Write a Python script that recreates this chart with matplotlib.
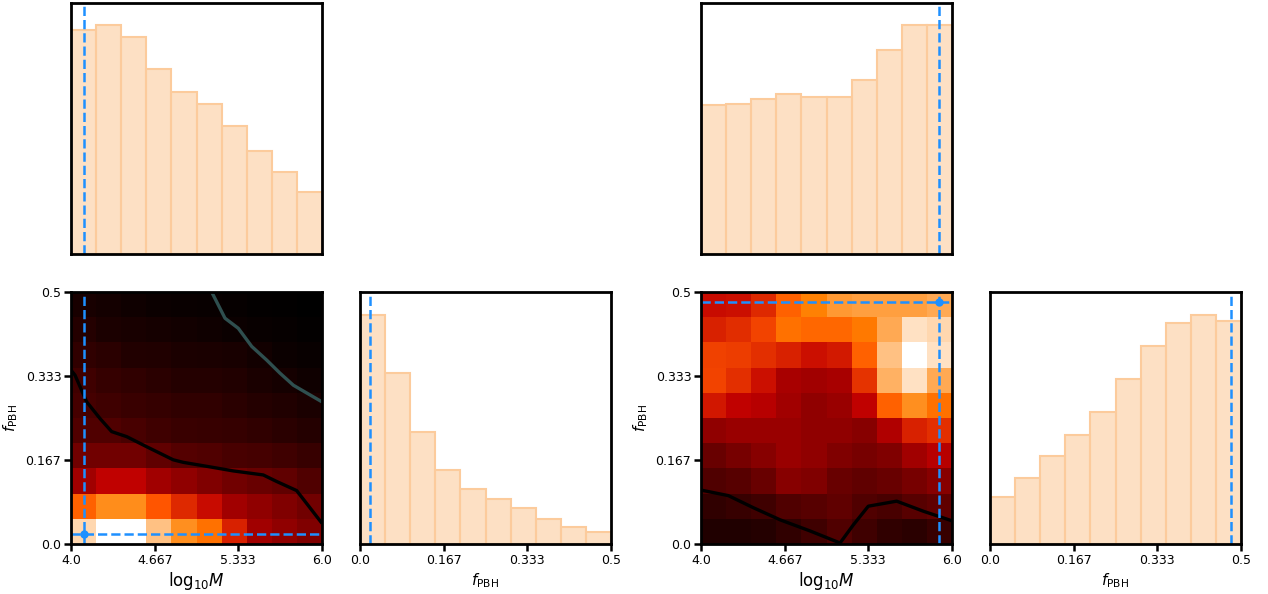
import numpy as np
import matplotlib
matplotlib.use("Agg")
import matplotlib.pyplot as plt

# ---------------- data ----------------
m_edges = np.linspace(4.0, 6.0, 11)
f_edges = np.linspace(0.0, 0.5, 11)

# marginal histograms (relative heights)
left_m_hist = [670, 684, 647, 553, 485, 447, 381, 307, 246, 186]
left_f_hist = [682, 508, 334, 219, 164, 133, 106, 75, 50, 36]
right_m_hist = [445, 448, 462, 478, 470, 470, 520, 609, 684, 684]
right_f_hist = [141, 196, 262, 323, 392, 492, 588, 657, 682, 663]

# 2D densities (rows: f bins from low to high, cols: log10M bins)
left_density = [
    [0.92, 1.00, 1.00, 0.875, 0.78, 0.72, 0.565, 0.418, 0.376, 0.335],
    [0.69, 0.775, 0.775, 0.667, 0.58, 0.523, 0.418, 0.376, 0.335, 0.293],
    [0.418, 0.502, 0.502, 0.418, 0.376, 0.335, 0.293, 0.27, 0.25, 0.21],
    [0.293, 0.293, 0.293, 0.25, 0.22, 0.21, 0.19, 0.18, 0.167, 0.146],
    [0.21, 0.21, 0.19, 0.167, 0.15, 0.146, 0.139, 0.125, 0.11, 0.097],
    [0.18, 0.167, 0.15, 0.139, 0.125, 0.125, 0.11, 0.097, 0.084, 0.068],
    [0.167, 0.139, 0.125, 0.11, 0.097, 0.097, 0.089, 0.068, 0.055, 0.042],
    [0.125, 0.11, 0.089, 0.084, 0.073, 0.068, 0.063, 0.047, 0.031, 0.021],
    [0.097, 0.073, 0.063, 0.055, 0.047, 0.042, 0.031, 0.021, 0.016, 0.010],
    [0.063, 0.052, 0.042, 0.031, 0.026, 0.021, 0.016, 0.010, 0.005, 0.0],
]
right_density = [
    [0.084, 0.084, 0.097, 0.125, 0.167, 0.21, 0.167, 0.125, 0.11, 0.146],
    [0.125, 0.146, 0.167, 0.21, 0.23, 0.25, 0.21, 0.19, 0.23, 0.25],
    [0.21, 0.23, 0.27, 0.355, 0.335, 0.27, 0.25, 0.27, 0.31, 0.355],
    [0.27, 0.31, 0.355, 0.40, 0.376, 0.335, 0.31, 0.335, 0.42, 0.48],
    [0.376, 0.40, 0.40, 0.40, 0.376, 0.376, 0.355, 0.46, 0.565, 0.59],
    [0.545, 0.50, 0.48, 0.42, 0.376, 0.40, 0.50, 0.69, 0.78, 0.72],
    [0.63, 0.59, 0.53, 0.44, 0.42, 0.44, 0.60, 0.845, 0.94, 0.83],
    [0.625, 0.62, 0.59, 0.565, 0.53, 0.55, 0.69, 0.875, 1.00, 0.94],
    [0.565, 0.586, 0.63, 0.72, 0.70, 0.70, 0.735, 0.83, 0.94, 0.92],
    [0.52, 0.53, 0.58, 0.69, 0.75, 0.80, 0.81, 0.81, 0.81, 0.83],
]

# contour curves
left_black_m = [4.0, 4.032, 4.125, 4.231, 4.324, 4.444, 4.603, 4.815, 4.895, 5.108, 5.293, 5.532, 5.639, 5.798, 6.0]
left_black_f = [0.345, 0.335, 0.282, 0.249, 0.223, 0.213, 0.193, 0.167, 0.162, 0.153, 0.145, 0.137, 0.124, 0.106, 0.041]
left_teal_m = [5.121, 5.227, 5.333, 5.44, 5.559, 5.665, 5.772, 6.0]
left_teal_f = [0.5, 0.448, 0.428, 0.392, 0.365, 0.339, 0.315, 0.282]
right_black_m = [4.0, 4.218, 4.417, 4.63, 4.868, 5.108, 5.214, 5.333, 5.559, 5.772, 6.0]
right_black_f = [0.107, 0.096, 0.072, 0.048, 0.026, 0.002, 0.038, 0.075, 0.085, 0.065, 0.046]

truth_left = (4.1, 0.02)
truth_right = (5.9, 0.48)

m_ticks = [4.0, 4.667, 5.333, 6.0]
m_ticklabels = ["4.0", "4.667", "5.333", "6.0"]
f_ticks = [0.0, 0.167, 0.333, 0.5]
f_ticklabels = ["0.0", "0.167", "0.333", "0.5"]

# ---------------- style ----------------
W, H = 1268, 594
fig = plt.figure(figsize=(W / 100, H / 100), dpi=100)
plt.rcParams['font.family'] = ['DejaVu Sans']

HIST_FC = '#FDE0C4'
HIST_EC = '#FCCB9C'
BLUE = '#1E90FF'
SPINE_LW = 2.0


def ax_at(x0, y0, w=251, h=251):
    return fig.add_axes([x0 / W, 1 - (y0 + h) / H, w / W, h / H])


def style(ax):
    for s in ax.spines.values():
        s.set_linewidth(SPINE_LW)
        s.set_color('black')
    ax.tick_params(width=1.8, length=5, labelsize=9, direction='out', pad=2)


def hist(ax, edges, vals, vline):
    ax.stairs(vals, edges, fill=True, facecolor=HIST_FC, edgecolor='none')
    ax.bar(edges[:-1], vals, width=np.diff(edges), align='edge',
           facecolor='none', edgecolor=HIST_EC, linewidth=1.5)
    ax.axvline(vline, color=BLUE, ls='--', lw=1.8)
    ax.set_xlim(edges[0], edges[-1])
    ax.set_ylim(0, 750)
    ax.set_yticks([])
    style(ax)


def heat(ax, dens, truth, curves):
    ax.pcolormesh(m_edges, f_edges, np.array(dens), cmap='gist_heat', vmin=0, vmax=1,
                  shading='flat')
    for xs, ys, c in curves:
        ax.plot(xs, ys, color=c, lw=2.4, solid_capstyle='butt')
    ax.axvline(truth[0], color=BLUE, ls='--', lw=1.8)
    ax.axhline(truth[1], color=BLUE, ls='--', lw=1.8)
    ax.plot([truth[0]], [truth[1]], 'o', color=BLUE, ms=5)
    ax.set_xlim(4, 6)
    ax.set_ylim(0, 0.5)
    ax.set_xticks(m_ticks)
    ax.set_xticklabels(m_ticklabels)
    ax.set_yticks(f_ticks)
    ax.set_yticklabels(f_ticklabels)
    ax.set_xlabel(r'$\mathrm{log}_{10}M$', fontsize=12, labelpad=2)
    ax.set_ylabel(r'$f_{\rm PBH}$', fontsize=11, labelpad=4)
    style(ax)


# ---- left corner ----
a = ax_at(71, 3)
hist(a, m_edges, left_m_hist, truth_left[0])
a.set_xticks([])

a = ax_at(71, 292, h=252)
heat(a, left_density, truth_left,
     [(left_black_m, left_black_f, 'black'), (left_teal_m, left_teal_f, '#2F4F4F')])

a = ax_at(360, 292, h=252)
hist(a, f_edges, left_f_hist, truth_left[1])
a.set_xticks(f_ticks)
a.set_xticklabels(f_ticklabels)
a.set_xlabel(r'$f_{\rm PBH}$', fontsize=11, labelpad=3)

# ---- right corner ----
a = ax_at(701, 3)
hist(a, m_edges, right_m_hist, truth_right[0])
a.set_xticks([])

a = ax_at(701, 292, h=252)
heat(a, right_density, truth_right, [(right_black_m, right_black_f, 'black')])

a = ax_at(990, 292, h=252)
hist(a, f_edges, right_f_hist, truth_right[1])
a.set_xticks(f_ticks)
a.set_xticklabels(f_ticklabels)
a.set_xlabel(r'$f_{\rm PBH}$', fontsize=11, labelpad=3)

fig.savefig('out.png', dpi=100)
